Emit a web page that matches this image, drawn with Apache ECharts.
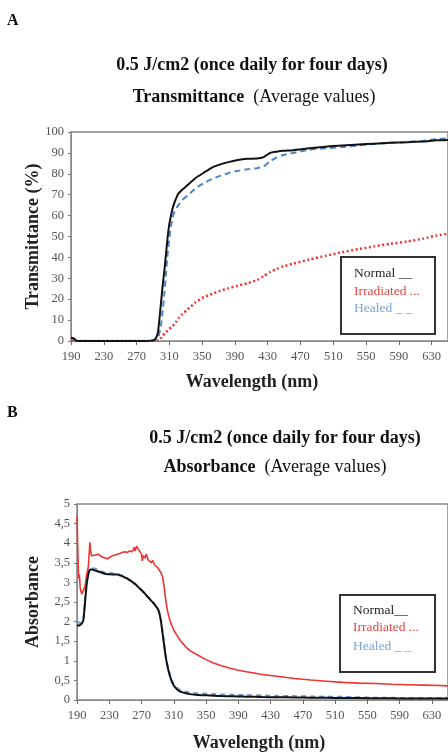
<!DOCTYPE html>
<html>
<head>
<meta charset="utf-8">
<script src="https://cdn.jsdelivr.net/npm/echarts@6/dist/echarts.min.js"></script>
<style>
html,body{margin:0;padding:0;background:#fff;}
#c{width:448px;height:752px;}
</style>
</head>
<body>
<div id="c"></div>
<script>
// ---------- Data: Panel A (Transmittance %) ----------
const wlA = [
  190,193,196,200,220,250,280,290,293,296,
  298,300,302,304,306,308,310,312,314,316,
  318,321,326,332,342,352,362,372,382,392,
  405,417,425,433,441,449,461,481,501,521,
  541,560,580,600,620,636,650
];
const normalT = [
  1.5,1.4,0.3,0,0,0,0,0.3,1,4,
  11,19,27,34,42,50,56,60,63.5,66,
  68,70.5,72.5,74.5,78,80.5,83,84.5,85.6,86.5,
  87.2,87.3,88,90,90.6,91,91.3,92.2,93,93.5,
  94,94.4,94.8,95.1,95.5,96,96.2
];
const irradiatedT = [
  0.3,0.2,0,0,0,0,0,0,0,0.3,
  0.8,1.5,2.3,3.6,4.3,5,5.8,6.5,7.2,8,
  9,10.8,13,15,18.5,21,22.5,24,25.2,26.3,
  27.6,29.2,31,33,34.5,35.7,37,39,40.8,42.5,
  44,45.3,46.5,47.6,49,50.5,51.3
];
const healedT = [
  1.0,0.8,0.2,0,0,0,0,0.2,0.5,1.5,
  4,8,15,23,33,42,49,55,59,61.5,
  63,65,67.5,69.5,73,75.5,77.5,79,80.3,81.3,
  82.2,82.7,83.5,86,87.8,89,90,91.5,92.2,92.8,
  93.6,94.3,94.8,95.2,95.8,96.6,96.9
];

// ---------- Data: Panel B (Absorbance) ----------
const wlB = [
  190,191,192,193,194,196,198,200,202,204,
  205,206,207,208,210,213,216,219,222,225,
  228,231,234,237,240,243,246,249,252,255,
  258,260,261,262,264,266,268,270,271,272,
  274,276,278,280,282,284,286,288,290,292,
  294,296,298,300,302,304,306,308,310,313,
  316,320,325,330,340,350,360,370,380,390,
  400,420,440,460,480,500,520,540,560,580,
  600,620,640,650
];
const irradiatedA = [
  4.7,3.8,3.1,3.2,2.85,2.7,2.65,2.9,3.2,3.4,
  3.7,4.02,3.8,3.68,3.72,3.7,3.72,3.68,3.64,3.62,
  3.6,3.65,3.68,3.7,3.72,3.74,3.76,3.78,3.76,3.8,
  3.78,3.84,3.9,3.8,3.92,3.85,3.88,3.72,3.55,3.68,
  3.62,3.72,3.58,3.6,3.5,3.56,3.45,3.42,3.38,3.33,
  3.25,3.15,2.9,2.55,2.3,2.12,1.98,1.88,1.78,1.68,
  1.58,1.47,1.35,1.26,1.14,1.03,0.94,0.87,0.81,0.76,
  0.72,0.65,0.6,0.55,0.51,0.48,0.45,0.43,0.42,0.40,
  0.39,0.38,0.37,0.36
];
const normalA = [
  1.9,1.9,1.9,1.9,1.92,1.95,2.05,2.5,2.95,3.2,
  3.28,3.32,3.33,3.33,3.32,3.3,3.28,3.26,3.24,3.22,
  3.21,3.21,3.2,3.2,3.2,3.18,3.16,3.13,3.1,3.06,
  3.02,2.99,2.97,2.96,2.92,2.88,2.84,2.8,2.78,2.76,
  2.72,2.67,2.62,2.58,2.53,2.49,2.44,2.39,2.33,2.22,
  2.02,1.72,1.4,1.1,0.88,0.7,0.56,0.45,0.37,0.29,
  0.24,0.2,0.17,0.15,0.13,0.12,0.11,0.1,0.095,0.09,
  0.085,0.075,0.07,0.065,0.06,0.055,0.05,0.048,0.045,0.043,
  0.04,0.04,0.04,0.04
];
const healedA = [
  2.02,2.0,1.98,1.97,1.97,1.98,2.1,2.6,3.0,3.25,
  3.32,3.36,3.37,3.37,3.36,3.35,3.32,3.29,3.27,3.25,
  3.24,3.24,3.23,3.22,3.22,3.2,3.17,3.14,3.11,3.07,
  3.03,3.0,2.98,2.97,2.93,2.89,2.85,2.81,2.79,2.77,
  2.73,2.68,2.63,2.59,2.54,2.5,2.45,2.4,2.34,2.24,
  2.05,1.76,1.44,1.14,0.92,0.74,0.6,0.49,0.41,0.33,
  0.28,0.24,0.21,0.19,0.17,0.16,0.15,0.14,0.135,0.13,
  0.125,0.115,0.105,0.1,0.09,0.085,0.08,0.07,0.06,0.055,
  0.05,0.05,0.05,0.05
];

const xTicks = [190,230,270,310,350,390,430,470,510,550,590,630];

const legendNames = ['Normal __', 'Irradiated ...', 'Healed _ _'];
const headerLine1 = '0.5 J/cm2 (once daily for four days)';
const xName = 'Wavelength (nm)';

// ---------- Styles ----------
const SERIF = '"Liberation Serif", "DejaVu Serif", serif';
const cBlack = '#111111';
const cRed = '#ee3333';
const cBlue = '#4a86c8';
const TITLE_FONT = 18;
const LEG_FONT = 13.5;

function pairs(xs, ys){ return xs.map((x,i)=>[x, ys[i]]); }

const axisLabelStyle = { fontFamily: SERIF, fontSize: 12.5, color: '#555' };

function xAxisFor(gridIndex){
  return {
    type: 'value', gridIndex, min: 190, max: 650,
    axisLine: { show: true, lineStyle: { color: '#888', width: 1 } },
    axisTick: { show: true, customValues: xTicks, length: 4, lineStyle: { color: '#666' } },
    axisLabel: Object.assign({ customValues: xTicks, margin: 9 }, axisLabelStyle),
    splitLine: { show: false }
  };
}

const chart = echarts.init(document.getElementById('c'), null, { renderer: 'canvas' });

const option = {
  animation: false,
  backgroundColor: '#ffffff',
  grid: [
    { left: 71, top: 132, width: 385, height: 209, show: true, borderColor: '#888', borderWidth: 1.5, containLabel: false },
    { left: 77, top: 504, width: 381, height: 196, show: true, borderColor: '#888', borderWidth: 1.5, containLabel: false }
  ],
  xAxis: [ xAxisFor(0), xAxisFor(1) ],
  yAxis: [
    {
      type: 'value', gridIndex: 0, min: 0, max: 100, interval: 10,
      name: 'Transmittance (%)', nameLocation: 'middle', nameGap: 29, nameMoveOverlap: false,
      nameTextStyle: { fontFamily: SERIF, fontSize: TITLE_FONT, fontWeight: 'bold', color: '#222' },
      axisLine: { show: true, lineStyle: { color: '#888' } },
      axisTick: { show: true, length: 3, lineStyle: { color: '#777' } },
      axisLabel: Object.assign({ margin: 7 }, axisLabelStyle),
      splitLine: { show: false }
    },
    {
      type: 'value', gridIndex: 1, min: 0, max: 5, interval: 0.5,
      name: 'Absorbance', nameLocation: 'middle', nameGap: 35, nameMoveOverlap: false,
      nameTextStyle: { fontFamily: SERIF, fontSize: TITLE_FONT, fontWeight: 'bold', color: '#222' },
      axisLine: { show: true, lineStyle: { color: '#888' } },
      axisTick: { show: true, length: 3, lineStyle: { color: '#777' } },
      axisLabel: Object.assign({ margin: 7, formatter: v => String(v).replace('.', ',') }, axisLabelStyle),
      splitLine: { show: false }
    }
  ],
  series: [
    { type: 'line', xAxisIndex: 0, yAxisIndex: 0, data: pairs(wlA, irradiatedT), showSymbol: false, smooth: 0.2,
      lineStyle: { color: cRed, width: 2.5, type: [2, 2.5] }, z: 2 },
    { type: 'line', xAxisIndex: 0, yAxisIndex: 0, data: pairs(wlA, healedT), showSymbol: false, smooth: 0.2,
      lineStyle: { color: cBlue, width: 2, type: [6, 4] }, z: 3 },
    { type: 'line', xAxisIndex: 0, yAxisIndex: 0, data: pairs(wlA, normalT), showSymbol: false, smooth: 0.2,
      lineStyle: { color: cBlack, width: 2 }, z: 4 },

    { type: 'line', xAxisIndex: 1, yAxisIndex: 1, data: pairs(wlB, irradiatedA), showSymbol: false,
      lineStyle: { color: cRed, width: 1.6 }, z: 2 },
    { type: 'line', xAxisIndex: 1, yAxisIndex: 1, data: pairs(wlB, healedA), showSymbol: false, smooth: 0.2,
      lineStyle: { color: '#6d9bd1', width: 2, type: [5, 4] }, z: 3 },
    { type: 'line', xAxisIndex: 1, yAxisIndex: 1, data: pairs(wlB, normalA), showSymbol: false, smooth: 0.2,
      lineStyle: { color: cBlack, width: 2 }, z: 4 }
  ],
  graphic: [
    { type: 'text', style: { text: 'A', x: 7, y: 21, verticalAlign: 'middle', font: 'bold 16px ' + SERIF, fill: '#111' } },
    { type: 'text', style: { text: headerLine1, x: 252, y: 65, align: 'center', verticalAlign: 'middle', font: 'bold ' + TITLE_FONT + 'px ' + SERIF, fill: '#111' } },
    { type: 'text', style: { text: '{b|Transmittance}{n|  (Average values)}', x: 254, y: 97, align: 'center', verticalAlign: 'middle',
        rich: { b: { font: 'bold ' + TITLE_FONT + 'px ' + SERIF, fill: '#111' }, n: { font: TITLE_FONT + 'px ' + SERIF, fill: '#111' } } } },
    { type: 'text', style: { text: xName, x: 252, y: 382, align: 'center', verticalAlign: 'middle', font: 'bold ' + TITLE_FONT + 'px ' + SERIF, fill: '#222' } },

    { type: 'text', style: { text: 'B', x: 7, y: 413, verticalAlign: 'middle', font: 'bold 16px ' + SERIF, fill: '#111' } },
    { type: 'text', style: { text: headerLine1, x: 285, y: 438, align: 'center', verticalAlign: 'middle', font: 'bold ' + TITLE_FONT + 'px ' + SERIF, fill: '#111' } },
    { type: 'text', style: { text: '{b|Absorbance}{n|  (Average values)}', x: 275, y: 467, align: 'center', verticalAlign: 'middle',
        rich: { b: { font: 'bold ' + TITLE_FONT + 'px ' + SERIF, fill: '#111' }, n: { font: TITLE_FONT + 'px ' + SERIF, fill: '#111' } } } },
    { type: 'text', style: { text: xName, x: 259, y: 743, align: 'center', verticalAlign: 'middle', font: 'bold ' + TITLE_FONT + 'px ' + SERIF, fill: '#222' } },

    // Legend box A
    { type: 'rect', shape: { x: 341, y: 257, width: 94, height: 77 }, style: { fill: '#fff', stroke: '#333', lineWidth: 2 }, z: 10 },
    { type: 'text', z: 11, style: { text: legendNames[0], x: 354, y: 273, verticalAlign: 'middle', font: LEG_FONT + 'px ' + SERIF, fill: '#222' } },
    { type: 'text', z: 11, style: { text: legendNames[1], x: 354, y: 291, verticalAlign: 'middle', font: LEG_FONT + 'px ' + SERIF, fill: '#ee4444' } },
    { type: 'text', z: 11, style: { text: legendNames[2], x: 354, y: 308, verticalAlign: 'middle', font: LEG_FONT + 'px ' + SERIF, fill: '#7ba3d6' } },

    // Legend box B
    { type: 'rect', shape: { x: 340, y: 595, width: 95, height: 77 }, style: { fill: '#fff', stroke: '#333', lineWidth: 2 }, z: 10 },
    { type: 'text', z: 11, style: { text: 'Normal__', x: 353, y: 610, verticalAlign: 'middle', font: LEG_FONT + 'px ' + SERIF, fill: '#222' } },
    { type: 'text', z: 11, style: { text: legendNames[1], x: 353, y: 627, verticalAlign: 'middle', font: LEG_FONT + 'px ' + SERIF, fill: '#ee4444' } },
    { type: 'text', z: 11, style: { text: legendNames[2], x: 353, y: 646, verticalAlign: 'middle', font: LEG_FONT + 'px ' + SERIF, fill: '#7ba3d6' } }
  ]
};

chart.setOption(option);
</script>
</body>
</html>
